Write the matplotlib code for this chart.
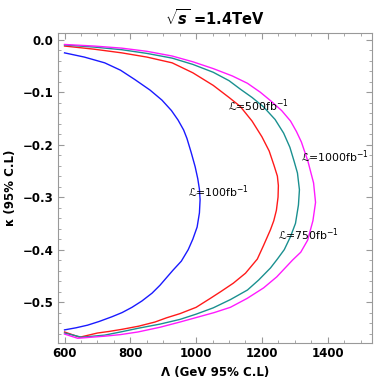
import matplotlib
matplotlib.use("Agg")
import matplotlib.pyplot as plt
from matplotlib.ticker import MultipleLocator

plt.rcParams['mathtext.fontset'] = 'custom'
plt.rcParams['mathtext.it'] = 'DejaVu Sans:italic:bold'
plt.rcParams['mathtext.rm'] = 'DejaVu Sans'

# contours: Lambda (GeV) and kappa
lam_100 = [600, 660, 722, 770, 814, 860, 896, 925, 945, 962, 972, 985, 997, 1005, 1010, 1012,
           1010, 1003, 990, 976, 955, 930, 912, 890, 866, 835, 805, 775, 744, 705, 670, 635, 600]
kap_100 = [-0.025, -0.033, -0.044, -0.058, -0.076, -0.096, -0.115, -0.135, -0.153, -0.172, -0.188,
           -0.215, -0.242, -0.265, -0.285, -0.305, -0.330, -0.357, -0.380, -0.400, -0.422, -0.439,
           -0.452, -0.468, -0.483, -0.498, -0.510, -0.520, -0.528, -0.537, -0.544, -0.549, -0.553]

lam_500 = [600, 690, 774, 850, 927, 990, 1052, 1100, 1134, 1170, 1200, 1222, 1237, 1247, 1250, 1249,
           1244, 1236, 1226, 1205, 1186, 1150, 1113, 1075, 1043, 1000, 951, 910, 875, 825, 774, 735,
           700, 646, 600]
kap_500 = [-0.012, -0.018, -0.025, -0.033, -0.044, -0.063, -0.087, -0.110, -0.127, -0.155, -0.185,
           -0.212, -0.240, -0.260, -0.278, -0.300, -0.325, -0.345, -0.362, -0.392, -0.418, -0.445,
           -0.464, -0.480, -0.493, -0.510, -0.522, -0.530, -0.538, -0.546, -0.552, -0.556, -0.559,
           -0.567, -0.557]

lam_750 = [600, 690, 774, 850, 927, 990, 1052, 1100, 1134, 1170, 1205, 1240, 1266, 1285, 1298, 1308,
           1314, 1311, 1302, 1287, 1268, 1247, 1226, 1190, 1156, 1105, 1052, 1000, 951, 890, 823, 770,
           722, 652, 600]
kap_750 = [-0.010, -0.014, -0.019, -0.026, -0.035, -0.047, -0.062, -0.078, -0.094, -0.110, -0.128,
           -0.152, -0.178, -0.205, -0.232, -0.254, -0.286, -0.315, -0.350, -0.375, -0.400, -0.418,
           -0.435, -0.458, -0.477, -0.495, -0.511, -0.523, -0.533, -0.542, -0.550, -0.557, -0.563,
           -0.567, -0.559]

lam_1000 = [600, 690, 774, 850, 927, 990, 1052, 1110, 1156, 1195, 1226, 1260, 1287, 1305, 1320, 1340,
            1357, 1363, 1355, 1339, 1318, 1293, 1278, 1245, 1205, 1155, 1104, 1055, 1003, 951, 890,
            823, 770, 722, 640, 600]
kap_1000 = [-0.009, -0.012, -0.016, -0.022, -0.031, -0.042, -0.055, -0.069, -0.083, -0.100, -0.116,
            -0.135, -0.155, -0.175, -0.195, -0.232, -0.273, -0.310, -0.345, -0.382, -0.405, -0.420,
            -0.430, -0.452, -0.473, -0.493, -0.510, -0.520, -0.529, -0.538, -0.548, -0.557, -0.562,
            -0.565, -0.569, -0.561]

labels = ["\u2112=100fb$^{-1}$", "\u2112=500fb$^{-1}$",
          "\u2112=750fb$^{-1}$", "\u2112=1000fb$^{-1}$"]
label_x = [975, 1098, 1250, 1318]
label_y = [-0.29, -0.126, -0.372, -0.223]

fig = plt.figure(figsize=(3.74, 3.92), dpi=100)
ax = fig.add_axes([0.155, 0.125, 0.84, 0.791])

ax.plot(lam_100, kap_100, color='#1a1aff', lw=1.0)
ax.plot(lam_500, kap_500, color='#ff1a1a', lw=1.0)
ax.plot(lam_750, kap_750, color='#1a9090', lw=1.0)
ax.plot(lam_1000, kap_1000, color='#ff1aff', lw=1.0)

for t, x, y in zip(labels, label_x, label_y):
    ax.text(x, y, t, fontsize=7.8, va='center', ha='left')

ax.set_xlim(580, 1535)
ax.set_ylim(-0.578, 0.013)
ax.xaxis.set_major_locator(MultipleLocator(200))
ax.xaxis.set_minor_locator(MultipleLocator(50))
ax.yaxis.set_major_locator(MultipleLocator(0.1))
ax.yaxis.set_minor_locator(MultipleLocator(0.02))
ax.yaxis.set_major_formatter(plt.FuncFormatter(lambda v, p: ("%.1f" % v).replace('-', '\u2212')))

for s in ax.spines.values():
    s.set_color('#999999')
ax.tick_params(which='both', direction='in', top=True, right=True, color='#999999')
ax.tick_params(which='major', length=4, labelsize=8.5, pad=3)
ax.tick_params(which='minor', length=2)
for lab in ax.get_xticklabels() + ax.get_yticklabels():
    lab.set_fontweight('bold')

ax.set_xlabel("\u039b (GeV 95% C.L)", fontsize=8.5, fontweight='bold', labelpad=4)
ax.set_ylabel("\u03ba (95% C.L)", fontsize=8.5, fontweight='bold', labelpad=4)
ax.set_title(r"$\sqrt{s}$ =1.4TeV", fontsize=10.5, fontweight='bold', pad=6)

fig.savefig("out.png", dpi=100)
